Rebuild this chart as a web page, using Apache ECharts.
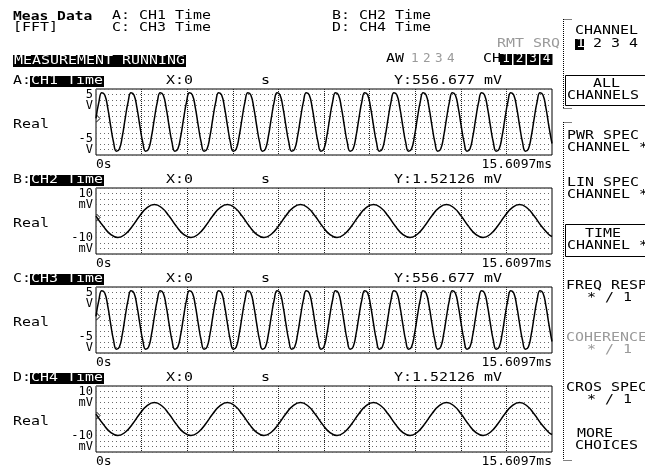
<!DOCTYPE html>
<html><head><meta charset="utf-8">
<script src="https://cdn.jsdelivr.net/npm/echarts@6/dist/echarts.min.js"></script>
<style>html,body{margin:0;padding:0;background:#fff}#c{width:645px;height:466px}</style>
</head><body><div id="c"></div>
<script>
// ---------- data ----------
const traceLetters = ['A', 'B', 'C', 'D'];
const traceNames = ['CH1 Time', 'CH2 Time', 'CH3 Time', 'CH4 Time'];
const xReadouts = ['X:0', 'X:0', 'X:0', 'X:0'];
const yReadouts = ['Y:556.677 mV', 'Y:1.52126 mV', 'Y:556.677 mV', 'Y:1.52126 mV'];
const yTop = [5, 10, 5, 10];
const yUnits = ['V', 'mV', 'V', 'mV'];
const xSpan = 15.6097;            // ms
const xStartLabel = '0s';
const xEndLabel = '15.6097ms';
const stepAC = 0.1;               // ms between samples (CH1, CH3)
const stepBD = 0.25;              // ms between samples (CH2, CH4)

const ch1 = [
  0.54, 3.06, 4.42, 4.08, 2.19, -0.54, -3.06, -4.42, -4.08, -2.19,
  0.54, 3.06, 4.42, 4.08, 2.19, -0.54, -3.06, -4.42, -4.08, -2.19,
  0.54, 3.06, 4.42, 4.08, 2.19, -0.54, -3.06, -4.42, -4.08, -2.19,
  0.54, 3.06, 4.42, 4.08, 2.19, -0.54, -3.06, -4.42, -4.08, -2.19,
  0.54, 3.06, 4.42, 4.08, 2.19, -0.54, -3.06, -4.42, -4.08, -2.19,
  0.54, 3.06, 4.42, 4.08, 2.19, -0.54, -3.06, -4.42, -4.08, -2.19,
  0.54, 3.06, 4.42, 4.08, 2.19, -0.54, -3.06, -4.42, -4.08, -2.19,
  0.54, 3.06, 4.42, 4.08, 2.19, -0.54, -3.06, -4.42, -4.08, -2.19,
  0.54, 3.06, 4.42, 4.08, 2.19, -0.54, -3.06, -4.42, -4.08, -2.19,
  0.54, 3.06, 4.42, 4.08, 2.19, -0.54, -3.06, -4.42, -4.08, -2.19,
  0.54, 3.06, 4.42, 4.08, 2.19, -0.54, -3.06, -4.42, -4.08, -2.19,
  0.54, 3.06, 4.42, 4.08, 2.19, -0.54, -3.06, -4.42, -4.08, -2.19,
  0.54, 3.06, 4.42, 4.08, 2.19, -0.54, -3.06, -4.42, -4.08, -2.19,
  0.54, 3.06, 4.42, 4.08, 2.19, -0.54, -3.06, -4.42, -4.08, -2.19,
  0.54, 3.06, 4.42, 4.08, 2.19, -0.54, -3.06, -4.42, -4.08, -2.19,
  0.54, 3.06, 4.42, 4.08, 2.19, -0.54, -3.06
];
const ch1End = -3.26;
const ch2 = [
  1.50, -1.59, -4.07, -5.00, -4.01, -1.50, 1.59, 4.07, 5.00, 4.01,
  1.50, -1.59, -4.07, -5.00, -4.01, -1.50, 1.59, 4.07, 5.00, 4.01,
  1.50, -1.59, -4.07, -5.00, -4.01, -1.50, 1.59, 4.07, 5.00, 4.01,
  1.50, -1.59, -4.07, -5.00, -4.01, -1.50, 1.59, 4.07, 5.00, 4.01,
  1.50, -1.59, -4.07, -5.00, -4.01, -1.50, 1.59, 4.07, 5.00, 4.01,
  1.50, -1.59, -4.07, -5.00, -4.01, -1.50, 1.59, 4.07, 5.00, 4.01,
  1.50, -1.59, -4.07
];
const ch2End = -4.71;
const ch3 = ch1.slice();
const ch3End = ch1End;
const ch4 = ch2.slice();
const ch4End = ch2End;

const headerLeft = ['Meas Data', '[FFT]'];
const headerMid = ['A: CH1 Time', 'C: CH3 Time'];
const headerRight = ['B: CH2 Time', 'D: CH4 Time'];
const statusText = 'MEASUREMENT RUNNING';
const softkeys = [
  ['PWR SPEC', 'CHANNEL *'],
  ['LIN SPEC', 'CHANNEL *'],
  ['TIME', 'CHANNEL *'],
  ['FREQ RESP', '* / 1'],
  ['COHERENCE', '* / 1'],
  ['CROS SPEC', '* / 1'],
  ['MORE', 'CHOICES']
];

// ---------- layout / drawing ----------
const MONO = '"DejaVu Sans Mono", "Liberation Mono", monospace';
const FS = 11.5, SX = 1.3;
function T(x, y, s, o) {
  o = o || {};
  return {
    type: 'text', x: x, y: y, scaleX: o.sx || SX, z: 20,
    style: {
      text: s, fill: o.color || '#000',
      font: (o.bold ? 'bold ' : '') + (o.fs || FS) + 'px ' + MONO,
      align: o.align || 'left', verticalAlign: 'middle'
    }
  };
}
function R(x, y, w, h, o) {
  o = o || {};
  return { type: 'rect', z: 15, shape: { x: x, y: y, width: w, height: h },
    style: { fill: o.fill === undefined ? '#000' : o.fill, stroke: o.stroke || null, lineWidth: 1 } };
}
function L(x1, y1, x2, y2, dash) {
  return { type: 'line', z: 15, shape: { x1: x1, y1: y1, x2: x2, y2: y2 },
    style: { stroke: '#000', lineWidth: 1, lineDash: dash || null } };
}

const G = [];
// header
G.push(T(13, 16.5, headerLeft[0], { bold: true, fs: 12, sx: 1.22 }));
G.push(T(13, 28.5, headerLeft[1]));
G.push(T(112, 16.5, headerMid[0]));
G.push(T(112, 28.5, headerMid[1]));
G.push(T(332, 16.5, headerRight[0]));
G.push(T(332, 28.5, headerRight[1]));
G.push(T(497, 44, 'RMT SRQ', { color: '#9a9a9a' }));
G.push(R(13, 55, 173, 12));
G.push(T(14, 61.5, statusText, { color: '#fff' }));
G.push(T(386, 59.5, 'AW'));
['1', '2', '3', '4'].forEach((d, k) => G.push(T(411 + 12 * k, 59.5, d, { color: '#9a9a9a', sx: 1.1 })));
G.push(T(483, 59.5, 'CH'));
['1', '2', '3', '4'].forEach((d, k) => {
  G.push(R(500 + 13.5 * k, 54, 12, 11));
  G.push(T(506 + 13.5 * k, 59.5, d, { color: '#fff', align: 'center', sx: 1.1 }));
});

// panels
for (let i = 0; i < 4; i++) {
  const dy = 99 * i;
  G.push(T(13, 81 + dy, traceLetters[i] + ':'));
  G.push(R(30, 76 + dy, 74, 11));
  G.push(T(31, 81.5 + dy, traceNames[i], { color: '#fff' }));
  G.push(T(166, 81 + dy, xReadouts[i]));
  G.push(T(261, 81 + dy, 's'));
  G.push(T(394, 81 + dy, yReadouts[i]));
  G.push(T(13, 125 + dy, 'Real'));
  G.push({ type: 'polyline', z: 25, shape: { points: [[96.5, 115 + dy], [100, 118.5 + dy], [96.5, 122 + dy]] },
    style: { stroke: '#000', lineWidth: 1, fill: null } });
}

// softkeys
G.push(L(563.5, 19, 563.5, 108, [1, 1]));
G.push(L(563.5, 19.5, 572, 19.5, [1, 1]));
G.push(L(563.5, 108.5, 572, 108.5, [1, 1]));
G.push(T(575, 31, 'CHANNEL'));
G.push(R(575, 39, 9, 11));
G.push(T(576, 44.5, '1', { color: '#fff' }));
G.push(T(593, 44.5, '2 3 4'));
G.push(R(565.5, 75.5, 90, 30, { fill: null, stroke: '#000' }));
G.push(T(593, 84, 'ALL'));
G.push(T(567, 96.5, 'CHANNELS'));

G.push(L(563.5, 122, 563.5, 460, [1, 1]));
G.push(L(563.5, 122.5, 572, 122.5, [1, 1]));
G.push(L(563.5, 460.5, 572, 460.5, [1, 1]));
const skY = [136, 183, 234, 286, 338, 388, 434];
const skX = [[567, 567], [567, 567], [585, 567], [566, 587], [566, 587], [566, 587], [577, 575]];
softkeys.forEach((lines, k) => {
  const col = k === 4 ? '#9a9a9a' : '#000';
  G.push(T(skX[k][0], skY[k], lines[0], { color: col }));
  G.push(T(skX[k][1], skY[k] + 12.5, lines[1], { color: col }));
});
G.push(R(565.5, 224.5, 90, 32, { fill: null, stroke: '#000' }));

// ---------- chart ----------
const traces = [[ch1, ch1End, stepAC], [ch2, ch2End, stepBD], [ch3, ch3End, stepAC], [ch4, ch4End, stepBD]];
const grids = [], xAxes = [], yAxes = [], series = [];
const dotH = { color: '#6a6a6a', width: 1, type: [1, 3] };
const dotV = { color: '#222', width: 1, type: [1, 1] };
for (let i = 0; i < 4; i++) {
  grids.push({ left: 96, top: 89 + 99 * i, width: 456, height: 66, show: true, borderColor: '#000', borderWidth: 1,
    backgroundColor: 'transparent', outerBoundsMode: 'none', containLabel: false });
  const xc = { type: 'value', gridIndex: i, position: 'bottom', min: 0, max: xSpan, interval: xSpan,
    axisLine: { show: false }, axisTick: { show: false }, splitLine: { show: false } };
  const xl = { show: true, showMinLabel: true, showMaxLabel: true, margin: 3, fontFamily: MONO, fontSize: 13, color: '#000' };
  xAxes.push(Object.assign({}, xc, {
    minorTick: { show: false, splitNumber: 10 }, minorSplitLine: { show: true, lineStyle: dotV },
    axisLabel: Object.assign({}, xl, { align: 'left', formatter: v => (v === 0 ? xStartLabel : '') })
  }));
  xAxes.push(Object.assign({}, xc, {
    axisLabel: Object.assign({}, xl, { align: 'right', formatter: v => (Math.abs(v - xSpan) < 1e-6 ? xEndLabel : '') })
  }));
  const top = yTop[i], unit = yUnits[i];
  const yc = { type: 'value', gridIndex: i, position: 'left', min: -top, max: top, interval: top,
    axisLine: { show: false }, axisTick: { show: false } };
  const yl = { show: true, showMinLabel: true, showMaxLabel: true, margin: 3, fontFamily: MONO, fontSize: 12,
    lineHeight: 11, color: '#000', align: 'right' };
  yAxes.push(Object.assign({}, yc, {
    splitLine: { show: true, lineStyle: dotH },
    minorTick: { show: false, splitNumber: 6 }, minorSplitLine: { show: true, lineStyle: dotH },
    axisLabel: Object.assign({}, yl, { verticalAlign: 'top', formatter: v => (v === top ? v + '\n' + unit : '') })
  }));
  yAxes.push(Object.assign({}, yc, {
    splitLine: { show: false },
    axisLabel: Object.assign({}, yl, { verticalAlign: 'bottom', formatter: v => (v === -top ? v + '\n' + unit : '') })
  }));
  const [vals, endVal, step] = traces[i];
  const data = vals.map((v, k) => [k * step, v]);
  data.push([xSpan, endVal]);
  series.push({ type: 'line', xAxisIndex: 2 * i, yAxisIndex: 2 * i, data: data, showSymbol: false, smooth: true,
    lineStyle: { color: '#000', width: 1.5 }, silent: true, z: 5 });
}

const chart = echarts.init(document.getElementById('c'), null, { renderer: 'canvas' });
chart.setOption({
  animation: false,
  backgroundColor: '#fff',
  grid: grids, xAxis: xAxes, yAxis: yAxes, series: series,
  graphic: { elements: G }
});
</script></body></html>
